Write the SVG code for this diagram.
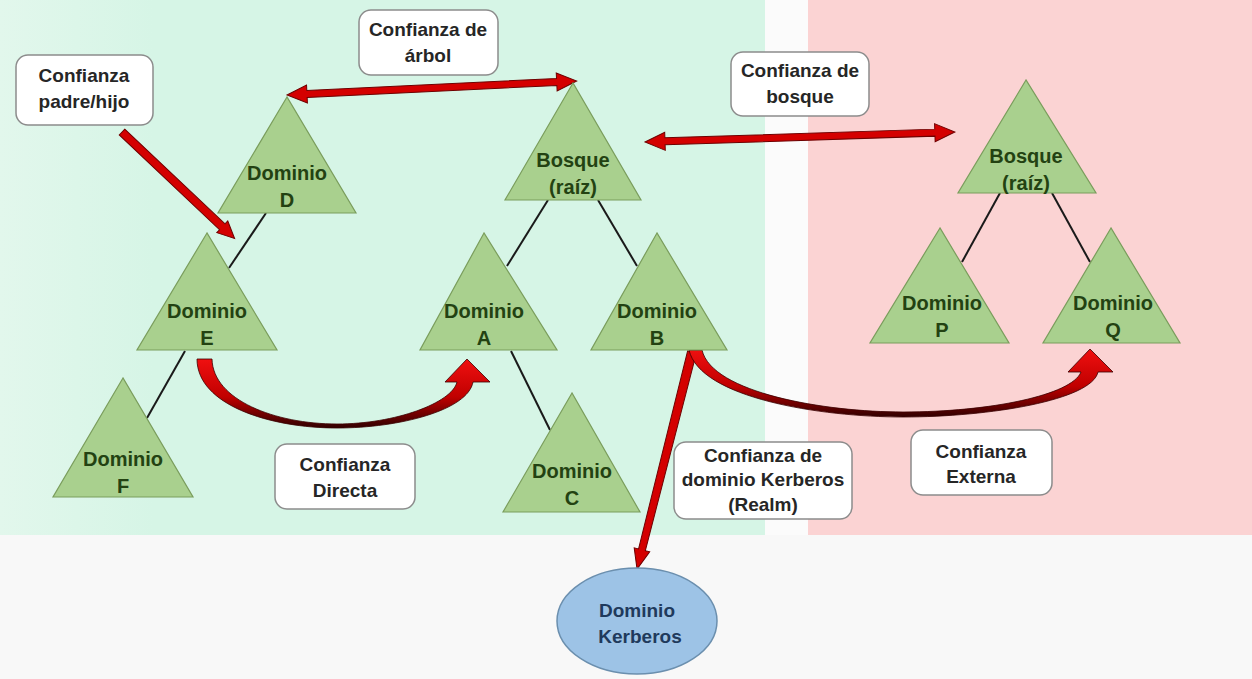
<svg xmlns="http://www.w3.org/2000/svg" width="1252" height="679" viewBox="0 0 1252 679">
<defs>
<style>
.tri{fill:#a9d08e;stroke:#7a9d5c;stroke-width:1.2}
.tt{font-family:"Liberation Sans",Arial,sans-serif;font-size:20px;font-weight:bold;fill:#234212;text-anchor:middle}
.box{fill:#ffffff;stroke:#8c8c8c;stroke-width:1.5}
.lt{font-family:"Liberation Sans",Arial,sans-serif;font-size:19px;font-weight:bold;fill:#262626;text-anchor:middle}
.tl{stroke:#1a1a1a;stroke-width:2;fill:none}
.ra{fill:#d40000;stroke:#6e0000;stroke-width:1}
.ca{fill:url(#cg);stroke:#3a0000;stroke-width:0.8}
</style>
<linearGradient id="cg" x1="0" y1="0" x2="0" y2="1">
<stop offset="0" stop-color="#f01010"/>
<stop offset="0.55" stop-color="#c00000"/>
<stop offset="1" stop-color="#300000"/>
</linearGradient>
<linearGradient id="gbg" x1="0" y1="0" x2="1" y2="0">
<stop offset="0" stop-color="#e2f7ec"/>
<stop offset="0.2" stop-color="#d6f5e6"/>
<stop offset="1" stop-color="#d6f5e6"/>
</linearGradient>
</defs>

<g id="background">
<rect x="0" y="0" width="1252" height="679" fill="#f8f8f8"/>
<rect x="0" y="0" width="765" height="535" fill="url(#gbg)"/>
<rect x="765" y="0" width="43" height="535" fill="#fbfbfb"/>
<rect x="808" y="0" width="444" height="535" fill="#fbd3d3"/>
</g>

<g id="connectors">
<line class="tl" x1="266" y1="213" x2="229" y2="268"/>
<line class="tl" x1="185" y1="351" x2="147" y2="418"/>
<line class="tl" x1="548" y1="200" x2="507" y2="266"/>
<line class="tl" x1="598" y1="200" x2="637" y2="266"/>
<line class="tl" x1="511" y1="351" x2="550" y2="430"/>
<line class="tl" x1="1000" y1="193" x2="962" y2="262"/>
<line class="tl" x1="1052" y1="193" x2="1090" y2="262"/>

<polygon class="ra" transform="translate(122,132) rotate(43.4)" points="0,-4 138,-4 138,-8 155,0 138,8 138,4 0,4"/>
<polygon class="ra" transform="translate(287,95) rotate(-2.76)" points="0,0 20,-9 20,-3.5 270,-3.5 270,-9 290,0 270,9 270,3.5 20,3.5 20,9"/>
<polygon class="ra" transform="translate(645,142) rotate(-1.85)" points="0,0 20,-9 20,-3.5 290,-3.5 290,-9 310,0 290,9 290,3.5 20,3.5 20,9"/>
<polygon class="ra" transform="translate(692,352) rotate(104.2)" points="0,-4.5 204,-3.5 204,-8 224,0 204,8 204,3.5 0,4.5"/>

<path class="ca" d="M197,359 C197,405 270,428 337,428 C400,428 468,410 473,382 L490,382 L467,359 L445,382 L457,382 C452,403 395,424 337,424 C275,424 213,400 212,359 Z"/>
<path class="ca" d="M689,350 C700,398 820,417 903,417 C990,417 1092,400 1098,372 L1113,372 L1090,349 L1068,372 L1081,372 C1072,395 990,412 903,412 C825,412 712,393 702,350 Z"/>
</g>

<g id="dominio-d"><polygon class="tri" points="287,97 218,213 356,213"/><text class="tt" x="287" y="180">Dominio</text><text class="tt" x="287" y="207">D</text></g>
<g id="bosque-l"><polygon class="tri" points="573,83 505,200 641,200"/><text class="tt" x="573" y="167">Bosque</text><text class="tt" x="573" y="194">(raíz)</text></g>
<g id="dominio-e"><polygon class="tri" points="207,233 137,350 277,350"/><text class="tt" x="207" y="318">Dominio</text><text class="tt" x="207" y="345">E</text></g>
<g id="dominio-a"><polygon class="tri" points="484,233 420,350 557,350"/><text class="tt" x="484" y="318">Dominio</text><text class="tt" x="484" y="345">A</text></g>
<g id="dominio-b"><polygon class="tri" points="657,233 591,350 727,350"/><text class="tt" x="657" y="318">Dominio</text><text class="tt" x="657" y="345">B</text></g>
<g id="dominio-c"><polygon class="tri" points="572,393 503,512 640,512"/><text class="tt" x="572" y="478">Dominio</text><text class="tt" x="572" y="505">C</text></g>
<g id="dominio-f"><polygon class="tri" points="123,378 53,497 193,497"/><text class="tt" x="123" y="466">Dominio</text><text class="tt" x="123" y="493">F</text></g>
<g id="bosque-r"><polygon class="tri" points="1026,80 958,193 1096,193"/><text class="tt" x="1026" y="163">Bosque</text><text class="tt" x="1026" y="190">(raíz)</text></g>
<g id="dominio-p"><polygon class="tri" points="940,228 870,343 1009,343"/><text class="tt" x="942" y="310">Dominio</text><text class="tt" x="942" y="337">P</text></g>
<g id="dominio-q"><polygon class="tri" points="1111,228 1043,343 1180,343"/><text class="tt" x="1113" y="310">Dominio</text><text class="tt" x="1113" y="337">Q</text></g>

<g id="dominio-kerberos">
<ellipse cx="637" cy="621" rx="80" ry="53" fill="#9dc3e6" stroke="#6b8fae" stroke-width="1.5"/>
<text class="tt" x="637" y="617" style="fill:#1f3a5c;font-size:19px">Dominio</text>
<text class="tt" x="640" y="643" style="fill:#1f3a5c;font-size:19px">Kerberos</text>
</g>

<g id="label-padre-hijo"><rect class="box" x="16" y="55" width="137" height="70" rx="12"/><text class="lt" x="84" y="82">Confianza</text><text class="lt" x="84" y="108">padre/hijo</text></g>
<g id="label-arbol"><rect class="box" x="359" y="10" width="139" height="65" rx="12"/><text class="lt" x="428" y="36">Confianza de</text><text class="lt" x="428" y="62">árbol</text></g>
<g id="label-bosque"><rect class="box" x="731" y="52" width="138" height="64" rx="12"/><text class="lt" x="800" y="77">Confianza de</text><text class="lt" x="800" y="103">bosque</text></g>
<g id="label-directa"><rect class="box" x="275" y="444" width="140" height="65" rx="12"/><text class="lt" x="345" y="471">Confianza</text><text class="lt" x="345" y="497">Directa</text></g>
<g id="label-kerberos"><rect class="box" x="674" y="442" width="178" height="77" rx="12"/><text class="lt" x="763" y="462">Confianza de</text><text class="lt" x="763" y="486">dominio Kerberos</text><text class="lt" x="763" y="511">(Realm)</text></g>
<g id="label-externa"><rect class="box" x="911" y="430" width="141" height="65" rx="12"/><text class="lt" x="981" y="458">Confianza</text><text class="lt" x="981" y="483">Externa</text></g>
</svg>
